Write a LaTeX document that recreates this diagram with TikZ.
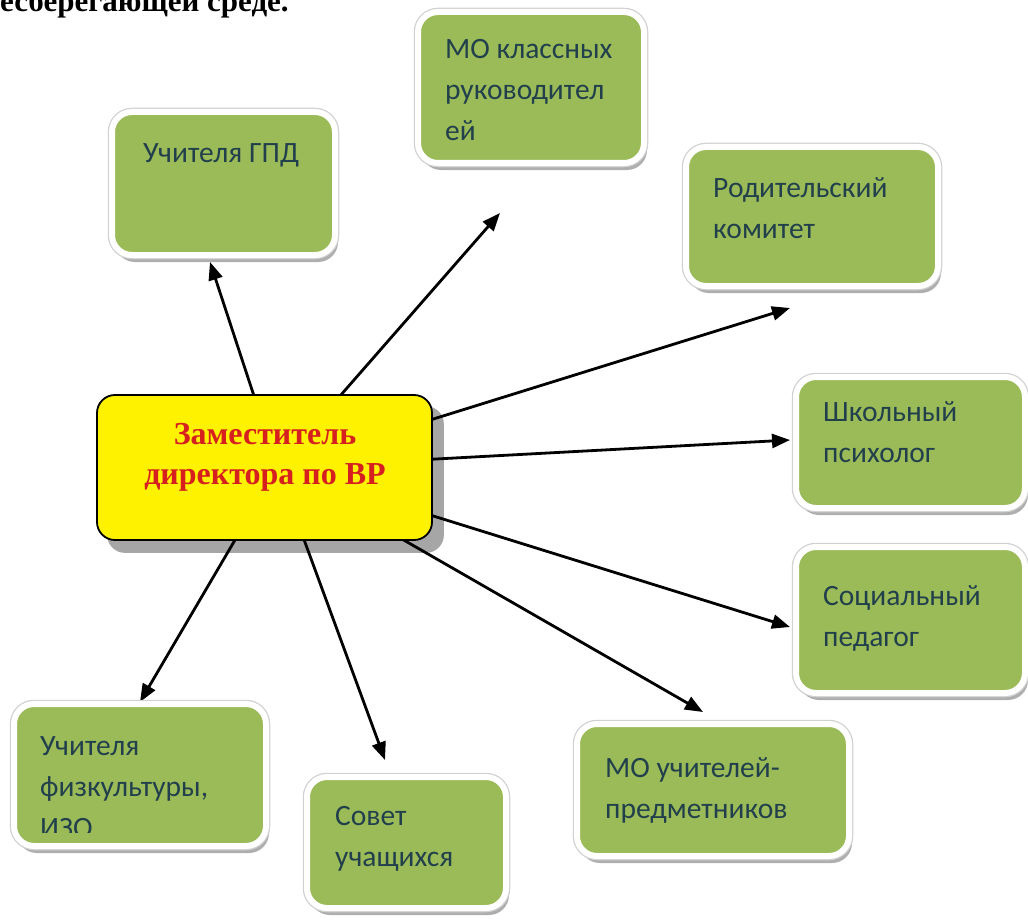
\documentclass[tikz,border=0pt]{standalone}
\usepackage{fontspec}
\setmainfont{Liberation Serif}
\newfontfamily\calfont{Carlito}
\usetikzlibrary{shadows,arrows.meta,fit}
\pgfdeclarelayer{paper}
\pgfdeclarelayer{background}
\pgfsetlayers{paper,background,main}
\definecolor{boxgreen}{RGB}{155,187,89}
\definecolor{boxtext}{RGB}{34,64,76}
\definecolor{headred}{RGB}{214,32,32}
\newcommand\lines[1]{\parbox[t]{300pt}{\raggedright #1}}
\tikzset{
  gbox/.style={draw=white, line width=6pt, fill=boxgreen, rounded corners=20pt, inner sep=3pt,
    drop shadow={shadow xshift=3pt, shadow yshift=-7pt, fill=black!45, opacity=0.7},
    preaction={draw=black!18, line width=8.5pt}},
  cbox/.style={draw=black, line width=1.8pt, fill=yellow, rounded corners=18pt, inner sep=0pt},
  cshadow/.style={fill=black!35, rounded corners=18pt},
  gtext/.style={font=\calfont\fontsize{29.5}{41}\selectfont, text=boxtext, anchor=base west, inner sep=0pt},
  arr/.style={line width=2.8pt, -{Triangle[length=18pt,width=14pt]}}
}
\begin{document}
\begin{tikzpicture}[x=1pt,y=-1pt]
\useasboundingbox (0,0) rectangle (1028,923);
\clip (0,0) rectangle (1028,923);
\begin{pgfonlayer}{paper}
\fill[white] (0,0) rectangle (1028,923);
\end{pgfonlayer}

% header (cut off)
\node[font=\bfseries\fontsize{31}{31}\selectfont, anchor=base west, inner sep=0pt] (hd) at (0,12) {есберегающей среде.};

% central box
\node[cbox, fit={(97,395)(432,540)}] (c) {};
\node[font=\bfseries\fontsize{32}{40}\selectfont, text=headred, align=center] (ct) at (265,457) {Заместитель\\директора по ВР};

% boxes
\node[gbox, fit={(115,115)(332,252)}] (b1) {};
\node[gtext] (t1) at (143,163) {\lines{Учителя ГПД}};

\node[gbox, fit={(421,15)(641,160)}] (b2) {};
\node[gtext] (t2) at (445,59) {\lines{МО классных\\руководител\\ей}};

\node[gbox, fit={(689,150)(935,283)}] (b3) {};
\node[gtext] (t3) at (713,197) {\lines{Родительский\\комитет}};

\node[gbox, fit={(799,380)(1022,505)}] (b4) {};
\node[gtext] (t4) at (823,421) {\lines{Школьный\\психолог}};

\node[gbox, fit={(799,550)(1022,690)}] (b5) {};
\node[gtext] (t5) at (823,605) {\lines{Социальный\\педагог}};

\node[gbox, fit={(580,727)(846,853)}] (b6) {};
\node[gtext] (t6) at (605,777) {\lines{МО учителей-\\предметников}};

\node[gbox, fit={(310,780)(503,905)}] (b7) {};
\node[gtext] (t7) at (335,825) {\lines{Совет\\учащихся}};

\node[gbox, fit={(17,707)(263,843)}] (b8) {};
\begin{scope}
\clip (17,700) rectangle (263,832);
\node[gtext] (t8) at (40,755) {\lines{Учителя\\физкультуры,\\ИЗО}};
\end{scope}

% arrow tips
\coordinate (e1) at (210,262);
\coordinate (e2) at (500,213);
\coordinate (e3) at (790,308);
\coordinate (e4) at (790,440);
\coordinate (e5) at (790,627);
\coordinate (e6) at (703,712);
\coordinate (e7) at (385,760);
\coordinate (e8) at (140,702);

\begin{pgfonlayer}{background}
\fill[cshadow] ([xshift=11pt,yshift=-12pt]c.south west) rectangle ([xshift=11pt,yshift=-12pt]c.north east);
\foreach \i in {1,...,8} \draw[arr] ([xshift=13pt]c.center) -- (e\i);
\end{pgfonlayer}
\end{tikzpicture}
\end{document}
